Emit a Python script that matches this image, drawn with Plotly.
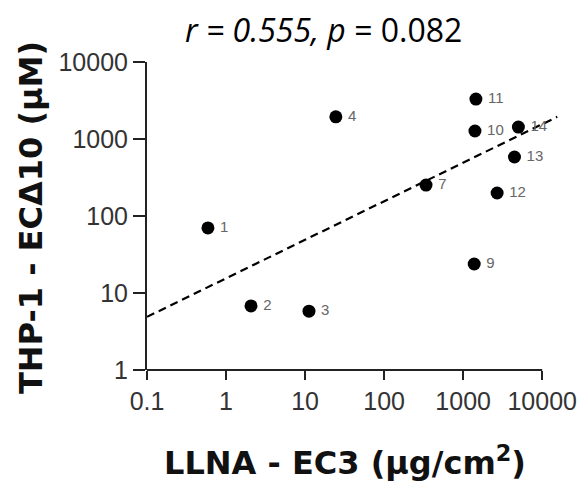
import plotly.graph_objects as go

labels = ["1", "2", "3", "4", "7", "9", "10", "11", "12", "13", "14"]
llna_ec3 = [0.59, 2.07, 11.2, 24.5, 339, 1380, 1410, 1450, 2690, 4460, 5000]
thp1_ec10 = [70, 6.8, 5.8, 1940, 252, 23.8, 1270, 3300, 199, 584, 1430]
fit_x = [0.1, 15500]
fit_y = [4.9, 1940]
x_ticks = [0.1, 1, 10, 100, 1000, 10000]
x_ticktext = ["0.1", "1", "10", "100", "1000", "10000"]
y_ticks = [1, 10, 100, 1000, 10000]
y_ticktext = ["1", "10", "100", "1000", "10000"]

# plot area in page pixels (page has an 8px body offset)
PL, PR, PT, PB = 147, 558, 62, 370


def px(x):
    return (x - PL) / (PR - PL)


def py(y):
    return (PB - y) / (PB - PT)


fig = go.Figure()
fig.add_trace(go.Scatter(x=fit_x, y=fit_y, mode="lines",
                         line=dict(color="black", width=2.2, dash="8px,5px"),
                         showlegend=False, hoverinfo="skip"))
fig.add_trace(go.Scatter(x=llna_ec3, y=thp1_ec10, mode="markers+text",
                         marker=dict(color="black", size=13),
                         text=["\u2009" + t for t in labels], textposition="middle right",
                         textfont=dict(family="Liberation Sans, Arial", size=15, color="#666666"),
                         cliponaxis=False, showlegend=False))

axis_font = dict(family="Liberation Sans, Arial", size=25, color="#333333")
fig.update_xaxes(type="log", range=[-1, 4.2], tickvals=x_ticks, ticktext=x_ticktext,
                 ticks="outside", ticklen=9, tickwidth=2, tickcolor="#222",
                 showline=False, showgrid=False, zeroline=False, tickfont=axis_font,
                 automargin=False)
fig.update_yaxes(type="log", range=[0, 4], tickvals=y_ticks, ticktext=y_ticktext,
                 ticks="outside", ticklen=12, tickwidth=2, tickcolor="#222",
                 showline=True, linewidth=2, linecolor="#222", mirror=False,
                 showgrid=False, zeroline=False, tickfont=axis_font,
                 automargin=False)
fig.add_shape(type="line", xref="x", yref="y domain", x0=0.1, x1=10000, y0=0, y1=0,
              line=dict(color="#222", width=2))

title_font = dict(family="DejaVu Sans", size=32, color="#111", weight="bold")
fig.add_annotation(text="LLNA - EC3 (µg/cm<sup>2</sup>)", showarrow=False,
                   xref="paper", yref="paper", x=px(345), y=py(461),
                   xanchor="center", yanchor="middle", font=title_font)
fig.add_annotation(text="THP-1 - ECΔ10 (µM)", showarrow=False, textangle=-90,
                   xref="paper", yref="paper", x=px(31), y=py(218),
                   xanchor="center", yanchor="middle", font=title_font)
fig.add_annotation(text="<i>r = 0.555,</i> <i>p</i> = 0.082", showarrow=False,
                   xref="paper", yref="paper", x=px(323), y=py(30),
                   xanchor="center", yanchor="middle",
                   font=dict(family="Open Sans, Noto Sans", size=32, color="black"))
fig.update_layout(width=585, height=484, margin=dict(l=PL - 8, r=585 - PR + 8, t=PT - 8, b=484 - PB + 8),
                  plot_bgcolor="white", paper_bgcolor="white")
fig.write_html("out.html")
